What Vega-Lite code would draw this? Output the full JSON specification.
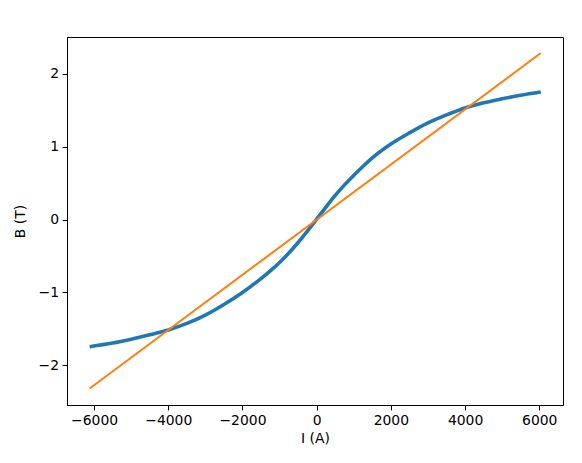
{
  "$schema": "https://vega.github.io/schema/vega-lite/v6.json",
  "autosize": "none",
  "width": 496,
  "height": 368,
  "padding": {"left": 67, "top": 37, "right": 19, "bottom": 58},
  "background": "white",
  "config": {
    "font": "DejaVu Sans",
    "view": {"stroke": "black", "strokeWidth": 1},
    "axis": {
      "grid": false,
      "domainColor": "black",
      "domainWidth": 1,
      "tickColor": "black",
      "tickSize": 4.9,
      "tickWidth": 1,
      "labelFont": "DejaVu Sans",
      "labelFontSize": 13.9,
      "labelColor": "black",
      "labelPadding": 3.5,
      "titleFont": "DejaVu Sans",
      "titleFontSize": 13.9,
      "titleFontWeight": "normal",
      "titleColor": "black"
    }
  },
  "datasets": {
    "blue": [
      {"I": -6120, "B": -1.745},
      {"I": -5500, "B": -1.695},
      {"I": -5000, "B": -1.642},
      {"I": -4500, "B": -1.582},
      {"I": -4000, "B": -1.515},
      {"I": -3500, "B": -1.425},
      {"I": -3000, "B": -1.31},
      {"I": -2500, "B": -1.165},
      {"I": -2000, "B": -1.0},
      {"I": -1500, "B": -0.81},
      {"I": -1250, "B": -0.705},
      {"I": -1000, "B": -0.59},
      {"I": -750, "B": -0.46},
      {"I": -500, "B": -0.315},
      {"I": -250, "B": -0.16},
      {"I": 0, "B": 0.005},
      {"I": 250, "B": 0.17},
      {"I": 500, "B": 0.33},
      {"I": 750, "B": 0.475},
      {"I": 1000, "B": 0.605},
      {"I": 1250, "B": 0.73},
      {"I": 1500, "B": 0.845},
      {"I": 2000, "B": 1.035},
      {"I": 2500, "B": 1.188},
      {"I": 3000, "B": 1.325},
      {"I": 3500, "B": 1.435},
      {"I": 4000, "B": 1.53},
      {"I": 4500, "B": 1.6},
      {"I": 5000, "B": 1.655},
      {"I": 5500, "B": 1.705},
      {"I": 6040, "B": 1.75}
    ],
    "orange": [
      {"I": -6120, "B": -2.318},
      {"I": 6040, "B": 2.283}
    ]
  },
  "layer": [
    {
      "data": {"name": "blue"},
      "mark": {"type": "line", "color": "#1f77b4", "strokeWidth": 3.6, "interpolate": "monotone"},
      "encoding": {
        "x": {"field": "I", "type": "quantitative", "scale": {"domain": [-6730, 6640], "nice": false, "zero": false},
          "axis": {"values": [-6000, -4000, -2000, 0, 2000, 4000, 6000], "format": "d", "title": "I (A)", "titlePadding": 4}},
        "y": {"field": "B", "type": "quantitative", "scale": {"domain": [-2.544, 2.503], "nice": false, "zero": false},
          "axis": {"values": [-2, -1, 0, 1, 2], "format": "d", "title": "B (T)", "titlePadding": 11}}
      }
    },
    {
      "data": {"name": "orange"},
      "mark": {"type": "line", "color": "#ff7f0e", "strokeWidth": 2},
      "encoding": {
        "x": {"field": "I", "type": "quantitative"},
        "y": {"field": "B", "type": "quantitative"}
      }
    }
  ]
}
